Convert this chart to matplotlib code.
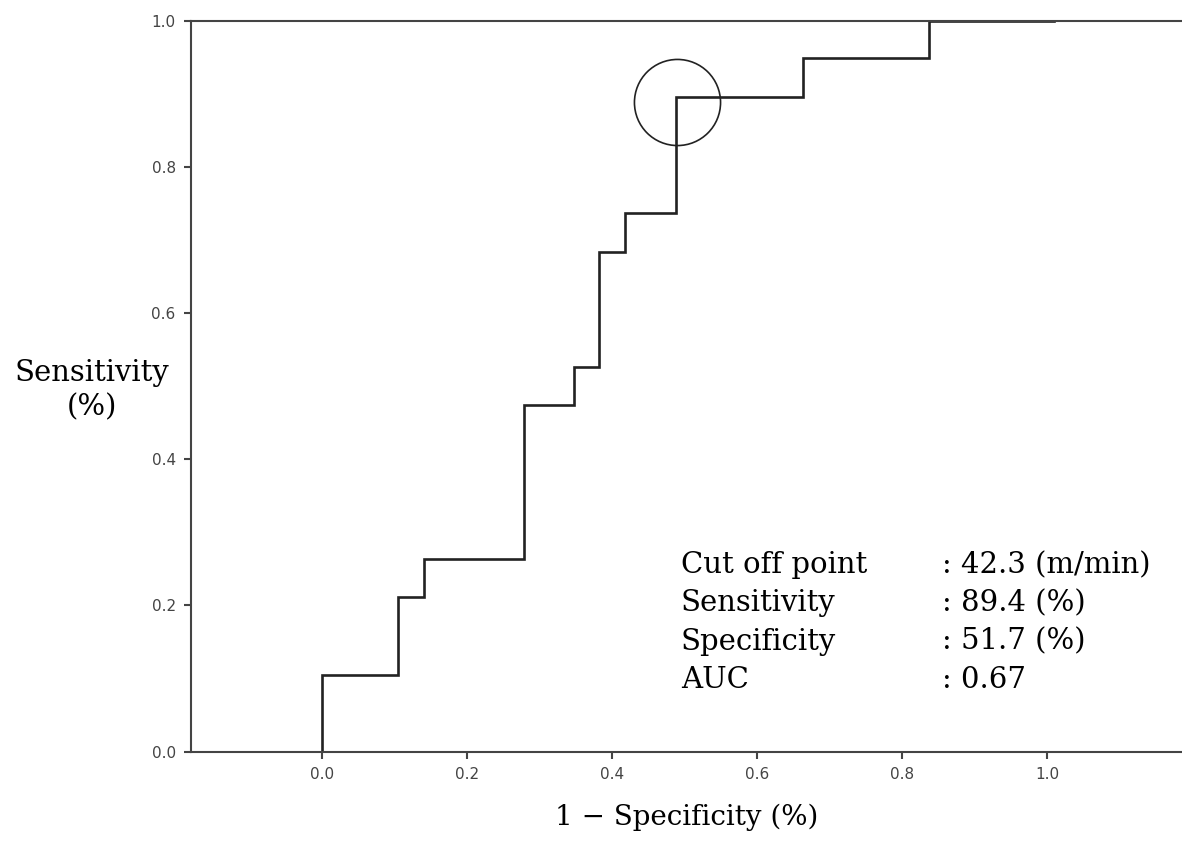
import matplotlib
matplotlib.use("Agg")
from matplotlib import pyplot as plt

# ROC step curve (1 - specificity, sensitivity)
fpr = [0.0, 0.0, 0.104, 0.104, 0.141, 0.141, 0.279, 0.279, 0.347, 0.347,
       0.382, 0.382, 0.418, 0.418, 0.488, 0.488, 0.663, 0.663, 0.837, 0.837, 1.01]
tpr = [0.0, 0.105, 0.105, 0.211, 0.211, 0.263, 0.263, 0.474, 0.474, 0.526,
       0.526, 0.684, 0.684, 0.737, 0.737, 0.896, 0.896, 0.949, 0.949, 1.0, 1.0]
cut_x, cut_y = 0.490, 0.889

ticks = [0.0, 0.2, 0.4, 0.6, 0.8, 1.0]
info_names = ["Cut off point", "Sensitivity", "Specificity", "AUC"]
info_vals = [": 42.3 (m/min)", ": 89.4 (%)", ": 51.7 (%)", ": 0.67"]

serif = ["DejaVu Serif"]

fig = plt.figure(figsize=(11.82, 8.41), dpi=100)
ax = fig.add_axes([0.1616, 0.1064, 0.8384, 0.8692])

ax.plot(fpr, tpr, color="#222222", lw=1.9, solid_joinstyle="miter")
ax.plot([cut_x], [cut_y], marker="o", ms=62, mfc="none", mec="#222222", mew=1.2)

ax.set_xlim(-0.181, 1.186)
ax.set_ylim(0, 1)
ax.set_xticks(ticks)
ax.set_yticks(ticks)
ax.set_xticklabels(["%.1f" % t for t in ticks])
ax.set_yticklabels(["%.1f" % t for t in ticks])
ax.tick_params(direction="out", length=5, width=1.5, colors="#444444",
               labelsize=11, pad=6)

for s in ["left", "bottom", "top"]:
    ax.spines[s].set_color("#444444")
    ax.spines[s].set_linewidth(1.5)
ax.spines["right"].set_visible(False)

ax.set_xlabel("1 − Specificity (%)", fontsize=20, family=serif, labelpad=16)
fig.text(0.078, 0.536, "Sensitivity\n(%)", fontsize=21, family=serif,
         ha="center", va="center", linespacing=1.3)

for i, (n, v) in enumerate(zip(info_names, info_vals)):
    y = 0.3187 - i * 0.0455
    fig.text(0.576, y, n, fontsize=21, family=serif, va="baseline")
    fig.text(0.797, y, v, fontsize=21, family=serif, va="baseline")

fig.savefig("out.png", dpi=100)
